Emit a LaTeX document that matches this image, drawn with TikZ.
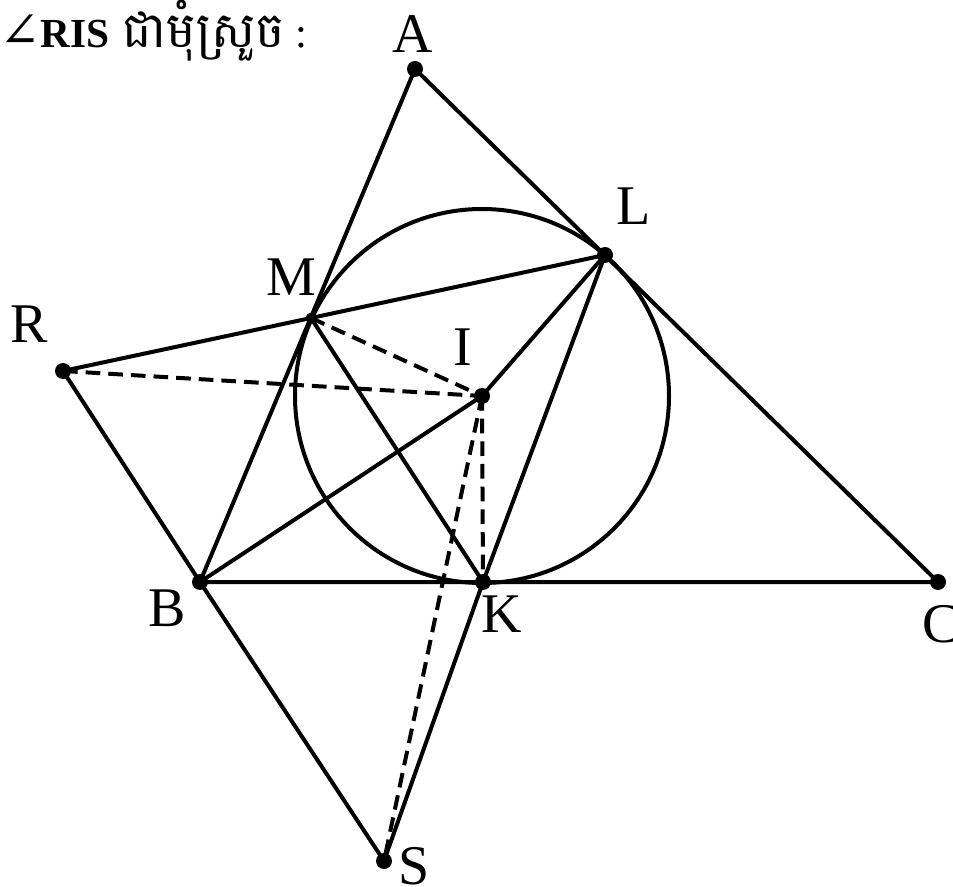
\documentclass[tikz,border=0pt]{standalone}
\usepackage{fontspec}
\setmainfont{Liberation Serif}
\newfontfamily\khmerfont[Script=Khmer]{Battambang}
\newfontfamily\symfont{DejaVu Serif}
\begin{document}
\begin{tikzpicture}[x=0.75pt,y=-0.75pt,
  seg/.style={line width=3pt},
  dsh/.style={line width=3pt,dash pattern=on 11pt off 6pt},
  dot/.style={circle,fill=black,inner sep=0pt,minimum size=12pt},
  sdot/.style={circle,fill=black,inner sep=0pt,minimum size=8pt},
  lab/.style={font=\fontsize{42}{42}\selectfont,inner sep=0pt}]
\useasboundingbox (0,0) rectangle (953,887);
\coordinate (A) at (415,69);
\coordinate (L) at (605,255);
\coordinate (M) at (311,318);
\coordinate (R) at (63,371);
\coordinate (I) at (482,396);
\coordinate (B) at (200,582);
\coordinate (K) at (483,582);
\coordinate (C) at (938,582);
\coordinate (S) at (384,861);
% circle
\draw[seg] (I) circle[radius=187];
% solid lines
\draw[seg] (A) -- (B) -- (C) -- cycle;
\draw[seg] (R) -- (M) -- (L);
\draw[seg] (R) -- (B) -- (S);
\draw[seg] (S) -- (K) -- (L);
\draw[seg] (M) -- (K);
\draw[seg] (B) -- (I) -- (L);
% dashed
\draw[dsh] (R) -- (I);
\draw[dsh] (M) -- (I);
\draw[dsh] (I) -- (K);
\draw[dsh] (I) -- (S);
% dots
\foreach \p in {A,L,R,I,B,K,C,S} \node[dot] at (\p) {};
\node[sdot] at (M) {};
% labels
\node[lab] (lA) at (413,34) {A};
\node[lab] (lL) at (634,206) {L};
\node[lab] (lM) at (291,277) {M};
\node[lab] (lR) at (29,324) {R};
\node[lab] (lI) at (463,347) {I};
\node[lab] (lB) at (167,608) {B};
\node[lab] (lK) at (502,614) {K};
\node[lab] (lC) at (941,624) {C};
\node[lab] (lS) at (414,866) {S};
\node[anchor=base west,inner sep=0pt] (title) at (-1,48)
  {{\symfont\fontsize{37}{37}\selectfont ∠}{\fontsize{31}{31}\selectfont\bfseries RIS}\hspace{10pt}{\khmerfont\fontsize{37}{37}\selectfont ជាមុំស្រួច}\hspace{8pt}{\fontsize{32}{32}\selectfont :}};
\end{tikzpicture}
\end{document}
